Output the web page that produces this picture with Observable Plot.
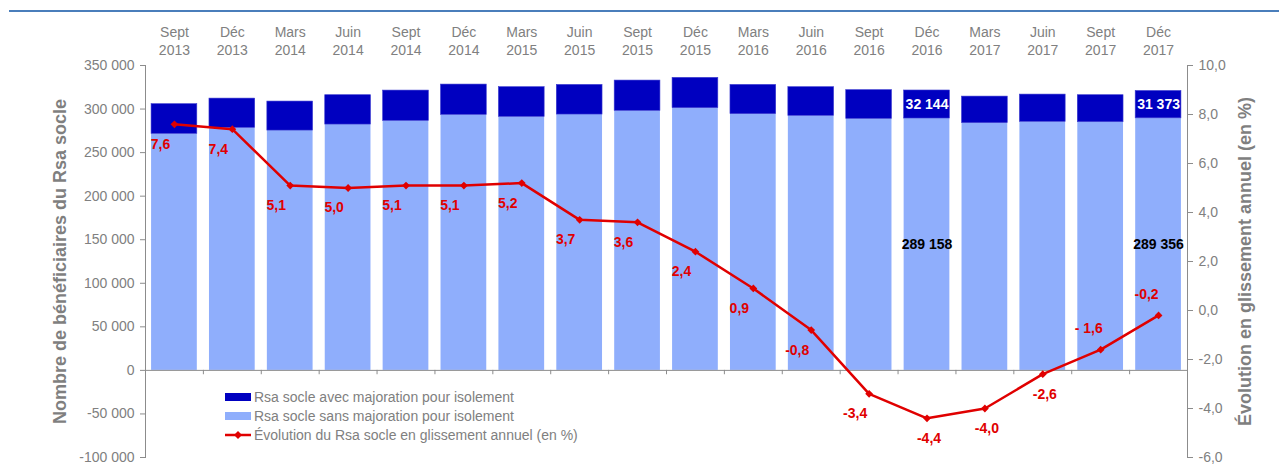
<!DOCTYPE html>
<html><head><meta charset="utf-8">
<script src="https://cdn.jsdelivr.net/npm/d3@7"></script>
<script src="https://cdn.jsdelivr.net/npm/@observablehq/plot@0.6"></script>
<style>
body{margin:0;background:#fff;font-family:"Liberation Sans",Arial,sans-serif;}
#wrap{position:relative;width:1279px;height:471px;overflow:hidden;}
#topline{position:absolute;left:9px;right:0;top:10px;height:2px;background:#4a7ebb;}
#chart{position:absolute;left:0;top:0;}
#legend{position:absolute;left:225px;top:387px;font-size:14px;color:#808080;}
.row{height:19.3px;display:flex;align-items:center;white-space:nowrap;}
.sw{width:26px;height:8px;margin-right:3px;}
</style></head><body>
<div id="wrap"><div id="topline"></div><div id="chart"></div><div id="legend"></div></div>
<script>
const months = ["Sept","Déc","Mars","Juin","Sept","Déc","Mars","Juin","Sept","Déc","Mars","Juin","Sept","Déc","Mars","Juin","Sept","Déc"];
const years = ["2013","2013","2014","2014","2014","2014","2015","2015","2015","2015","2016","2016","2016","2016","2017","2017","2017","2017"];
const sansMajoration = [271500,278400,275300,282200,286400,293300,291000,293700,297900,301000,294100,292200,288700,289158,283800,285300,284900,289356];
const avecMajoration = [34100,33600,33300,33700,34800,34800,34100,34000,34800,34800,33600,32900,33000,32144,30500,31300,31000,31373];
const evolution = [7.6,7.4,5.1,5.0,5.1,5.1,5.2,3.7,3.6,2.4,0.9,-0.8,-3.4,-4.4,-4.0,-2.6,-1.6,-0.2];
const evolutionLabels = ["7,6","7,4","5,1","5,0","5,1","5,1","5,2","3,7","3,6","2,4","0,9","-0,8","-3,4","-4,4","-4,0","-2,6","- 1,6","-0,2"];
const labeledPeriods = ["Déc 2016","Déc 2017"];
const leftTicks = [-100000,-50000,0,50000,100000,150000,200000,250000,300000,350000];
const rightTicks = [-6,-4,-2,0,2,4,6,8,10];
const seriesNames = ["Rsa socle avec majoration pour isolement","Rsa socle sans majoration pour isolement","Évolution du Rsa socle en glissement annuel (en %)"];
const yTitleLeft = "Nombre de bénéficiaires du Rsa socle";
const yTitleRight = "Évolution en glissement annuel (en %)";

const DARK = "#0000c0", LIGHT = "#8faefc", RED = "#e00000", GRAY = "#808080", AXIS = "#8c8c8c";

const pctToY = d3.scaleLinear().domain([-6, 10]).range([-100000, 350000]);
const fmtInt = v => d3.format(",")(v).replace(/,/g, " ").replace("\u2212", "-");
const fmtPct = v => d3.format(".1f")(Math.round(v * 10) / 10 || 0).replace(".", ",").replace("\u2212", "-");

const cats = months.map((m, i) => m + "\n" + years[i]);
const rows = cats.map((c, i) => ({
  cat: c, period: months[i] + " " + years[i], idx: i,
  sans: sansMajoration[i], avec: avecMajoration[i],
  total: sansMajoration[i] + avecMajoration[i],
  evoY: pctToY(evolution[i]), evoLabel: evolutionLabels[i]
}));
const labeled = rows.filter(r => labeledPeriods.includes(r.period));

const W = 1279, H = 471, mL = 145, mR = 92, mT = 65, mB = 14;
const step = (W - mL - mR) / cats.length;
const font = "Liberation Sans, Arial, sans-serif";

const plot = Plot.plot({
  width: W, height: H, marginLeft: mL, marginRight: mR, marginTop: mT, marginBottom: mB,
  style: {fontFamily: font, fontSize: "14px", color: GRAY, background: "transparent", overflow: "visible"},
  x: {domain: cats, paddingInner: 0.21, paddingOuter: 0.105, round: false},
  y: {domain: [-100000, 350000]},
  marks: [
    Plot.barY(rows, {x: "cat", y1: 0, y2: "sans", fill: LIGHT}),
    Plot.barY(rows, {x: "cat", y1: "sans", y2: "total", fill: DARK, stroke: "#3a3ad0", strokeWidth: 0.6}),
    Plot.axisX({anchor: "top", tickSize: 0, tickPadding: 11, fontSize: 14, lineHeight: 1.25, fill: GRAY, label: null}),
    Plot.axisY(leftTicks, {anchor: "left", tickSize: 5, tickPadding: 6, tickFormat: fmtInt, fontSize: 14, fill: GRAY, stroke: AXIS, label: null}),
    Plot.axisY(rightTicks.map(pctToY), {anchor: "right", tickSize: 5, tickPadding: 6, tickFormat: v => fmtPct(pctToY.invert(v)), fontSize: 14, fill: GRAY, stroke: AXIS, label: null}),
    Plot.frame({anchor: "left", stroke: AXIS}),
    Plot.frame({anchor: "right", stroke: AXIS}),
    Plot.ruleY([0], {stroke: AXIS}),
    Plot.ruleX(cats.slice(0, -1), {x: d => d, y1: 0, y2: -5000, dx: step / 2, stroke: AXIS}),
    Plot.text([yTitleLeft], {frameAnchor: "left", textAnchor: "middle", dx: -85, rotate: -90, text: d => d, fontSize: 18, fontWeight: "bold", fill: "#7f7f7f"}),
    Plot.text([yTitleRight], {frameAnchor: "right", textAnchor: "middle", dx: 58, rotate: -90, text: d => d, fontSize: 18, fontWeight: "bold", fill: "#7f7f7f"}),
    Plot.line(rows, {x: "cat", y: "evoY", stroke: RED, strokeWidth: 2.5}),
    Plot.dot(rows, {x: "cat", y: "evoY", symbol: "diamond2", r: 3.5, fill: RED}),
    Plot.text(rows.filter(r => r.idx <= 12), {x: "cat", y: "evoY", text: "evoLabel", dx: -14, dy: 20, fill: RED, fontWeight: "bold", fontSize: 14}),
    Plot.text(rows.filter(r => r.idx > 12 && r.idx <= 15), {x: "cat", y: "evoY", text: "evoLabel", dx: 2, dy: 20, fill: RED, fontWeight: "bold", fontSize: 14}),
    Plot.text(rows.filter(r => r.idx > 15), {x: "cat", y: "evoY", text: "evoLabel", dx: -12, dy: -21, fill: RED, fontWeight: "bold", fontSize: 14}),
    Plot.text(labeled, {x: "cat", y: r => (r.sans + r.total) / 2, text: r => fmtInt(r.avec), fill: "white", fontWeight: "bold", fontSize: 14}),
    Plot.text(labeled, {x: "cat", y: r => r.sans / 2, text: r => fmtInt(r.sans), fill: "black", fontWeight: "bold", fontSize: 14})
  ]
});
document.getElementById("chart").appendChild(plot);

const legend = document.getElementById("legend");
legend.innerHTML =
  `<div class="row"><div class="sw" style="background:${DARK}"></div>${seriesNames[0]}</div>` +
  `<div class="row"><div class="sw" style="background:${LIGHT}"></div>${seriesNames[1]}</div>` +
  `<div class="row"><svg width="26" height="10" style="margin-right:3px"><line x1="0" x2="26" y1="5" y2="5" stroke="${RED}" stroke-width="2.5"/><path d="M13,1L17,5L13,9L9,5Z" fill="${RED}"/></svg>${seriesNames[2]}</div>`;
</script>
</body></html>
